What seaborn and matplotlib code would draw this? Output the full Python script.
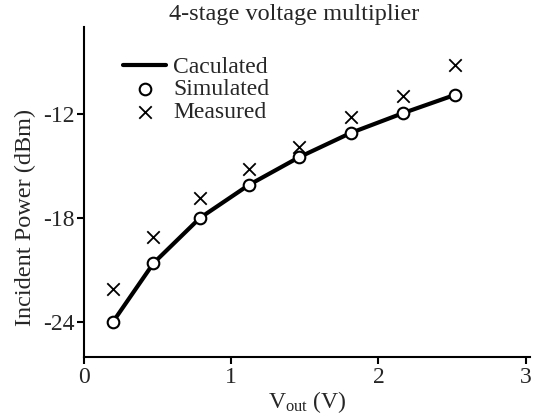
import numpy as np
import pandas as pd
import matplotlib
matplotlib.use("Agg")
import matplotlib.pyplot as plt
import seaborn as sns

vout = [0.195, 0.472, 0.787, 1.119, 1.461, 1.812, 2.17, 2.523]
calculated = [-24.0, -20.6, -18.0, -16.1, -14.5, -13.1, -11.95, -10.9]
simulated = [-24.0, -20.6, -18.0, -16.1, -14.5, -13.1, -11.95, -10.9]
measured = [-22.1, -19.1, -16.85, -15.15, -13.9, -12.2, -11.0, -9.2]

df = pd.DataFrame({"vout": vout, "calc": calculated, "sim": simulated, "meas": measured})

sns.set_style("ticks")
plt.rcParams["font.family"] = ["Liberation Serif", "DejaVu Serif"]
plt.rcParams["mathtext.fontset"] = "custom"
plt.rcParams["mathtext.rm"] = "Liberation Serif"
plt.rcParams["mathtext.it"] = "Liberation Serif"
plt.rcParams["axes.unicode_minus"] = False

fig = plt.figure(figsize=(5.46, 4.16), dpi=100)
ax = fig.add_axes([84/546, 1-357/416, (530-84)/546, (357-27)/416])

sns.lineplot(data=df, x="vout", y="calc", ax=ax, color="black", linewidth=3, label="Caculated", zorder=2)
sns.scatterplot(data=df, x="vout", y="sim", ax=ax, marker="o", s=70, facecolor="white",
                edgecolor="black", linewidth=1.5, label="Simulated", zorder=3)
sns.scatterplot(data=df, x="vout", y="meas", ax=ax, marker="x", s=80, color="black",
                linewidth=1.3, label="Measured", zorder=3)

ax.set_xlim(0, 3.03)
ax.set_ylim(-26, -7)
ax.set_xticks([0, 1, 2, 3])
ax.set_yticks([-24, -18, -12])
ax.tick_params(direction="out", length=5, width=1.5, labelsize=17, color="black", pad=2)
for s in ["top", "right"]:
    ax.spines[s].set_visible(False)
for s in ["left", "bottom"]:
    ax.spines[s].set_linewidth(1.5)
    ax.spines[s].set_color("black")

ax.set_xlabel(r"V$_{\mathrm{out}}$ (V)", fontsize=17, labelpad=1)
ax.set_ylabel("Incident Power (dBm)", fontsize=17.5)
ax.yaxis.set_label_coords(-0.108, 0.424)
ax.set_title("4-stage voltage multiplier", fontsize=17.5, pad=5, x=0.471)

leg = ax.legend(loc="upper left", bbox_to_anchor=(0.067, 0.94), frameon=False, fontsize=17,
                handlelength=1.8, handletextpad=0.3, labelspacing=0.05, borderaxespad=0)

fig.savefig("out.png", dpi=100)
